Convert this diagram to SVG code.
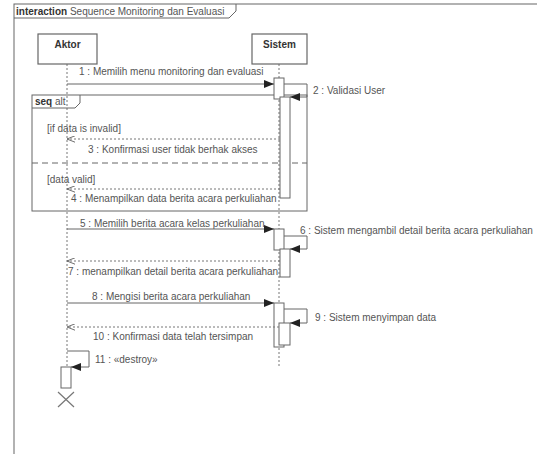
<svg xmlns="http://www.w3.org/2000/svg" width="537" height="454" viewBox="0 0 537 454">
<style>
text{font-family:"Liberation Sans",Arial,sans-serif;font-size:10px;fill:#555}
.b{font-weight:bold;fill:#333}
.ln{stroke:#666;stroke-width:1;fill:none}
.ll{stroke:#777;stroke-width:1;stroke-dasharray:2,2;fill:none}
.ret{stroke:#777;stroke-width:1;stroke-dasharray:2,2;fill:none}
.act{stroke:#666;stroke-width:1;fill:#fff}
.box{stroke:#666;stroke-width:1.2;fill:#fff}
</style>
<defs>
<marker id="fa" viewBox="0 0 10 8" refX="10" refY="4" markerWidth="10" markerHeight="8" markerUnits="userSpaceOnUse" orient="auto">
<path d="M0,0 L10,4 L0,8 z" fill="#222"/>
</marker>
<marker id="oa" viewBox="0 0 10 8" refX="10" refY="4" markerWidth="8" markerHeight="7" markerUnits="userSpaceOnUse" orient="auto">
<path d="M0,0 L10,4 L0,8" fill="none" stroke="#666" stroke-width="1.2"/>
</marker>
</defs>
<rect width="537" height="454" fill="#fff"/>
<g id="frame">
<rect x="14" y="4" width="540" height="470" class="ln" stroke-width="1.5"/>
<path d="M14,18 L229,18 L236,11 L236,4" class="ln"/>
<text x="16" y="14.5" font-size="9.5"><tspan class="b">interaction</tspan> Sequence Monitoring dan Evaluasi</text>
</g>
<g id="lifelines">
<path d="M67,64 V367" class="ll"/>
<path d="M279,64 V368" class="ll"/>
</g>
<g id="Aktor">
<rect x="38" y="34" width="59" height="30" class="box"/>
<text x="67.5" y="48" text-anchor="middle" class="b">Aktor</text>
</g>
<g id="Sistem">
<rect x="252" y="34" width="55" height="30" class="box"/>
<text x="279.5" y="48" text-anchor="middle" class="b">Sistem</text>
</g>
<g id="alt">
<rect x="32" y="95" width="275" height="116" class="ln"/>
<path d="M32,108 L75,108 L80,103 L80,95" class="ln"/>
<text x="35" y="105"><tspan class="b">seq</tspan> alt</text>
<path d="M32,163 H307" class="ln" stroke-dasharray="6,4"/>
<text x="47" y="132">[if data is invalid]</text>
<text x="47" y="183">[data valid]</text>
</g>
<g id="activations">
<rect x="274" y="78" width="10" height="21" class="act"/>
<rect x="280" y="97" width="10" height="101" class="act"/>
<rect x="274" y="229" width="10" height="21" class="act"/>
<rect x="280" y="249" width="10" height="28" class="act"/>
<rect x="274" y="303" width="10" height="44" class="act"/>
<rect x="279" y="323" width="11" height="22" class="act"/>
<rect x="61" y="367" width="10" height="21" class="act"/>
</g>
<g id="destroy">
<path d="M58,392 L74,407 M74,392 L58,407" stroke="#777" stroke-width="1.2"/>
</g>
<g id="connectors">
<path d="M67,84 H274" class="ln" marker-end="url(#fa)"/>
<path d="M284,84 H307 V97 H290" class="ln" marker-end="url(#fa)"/>
<path d="M280,139 H67" class="ret" marker-end="url(#oa)"/>
<path d="M280,189 H67" class="ret" marker-end="url(#oa)"/>
<path d="M67,229 H274" class="ln" marker-end="url(#fa)"/>
<path d="M284,236 H307 V249 H290" class="ln" marker-end="url(#fa)"/>
<path d="M280,261 H67" class="ret" marker-end="url(#oa)"/>
<path d="M67,303 H274" class="ln" marker-end="url(#fa)"/>
<path d="M284,309 H307 V323 H290" class="ln" marker-end="url(#fa)"/>
<path d="M279,327 H67" class="ret" marker-end="url(#oa)"/>
<path d="M67,351 H89 V367 H71" class="ln" marker-end="url(#fa)"/>
</g>
<g id="labels">
<text x="79" y="75">1 : Memilih menu monitoring dan evaluasi</text>
<text x="313" y="94">2 : Validasi User</text>
<text x="88" y="153">3 : Konfirmasi user tidak berhak akses</text>
<text x="71" y="202">4 : Menampilkan data berita acara perkuliahan</text>
<text x="80" y="227">5 : Memilih berita acara kelas perkuliahan</text>
<text x="300" y="234">6 : Sistem mengambil detail berita acara perkuliahan</text>
<text x="68" y="275">7 : menampilkan detail berita acara perkuliahan</text>
<text x="92" y="300">8 : Mengisi berita acara perkuliahan</text>
<text x="315" y="321">9 : Sistem menyimpan data</text>
<text x="93" y="340">10 : Konfirmasi data telah tersimpan</text>
<text x="95" y="363">11 : «destroy»</text>
</g>
</svg>
